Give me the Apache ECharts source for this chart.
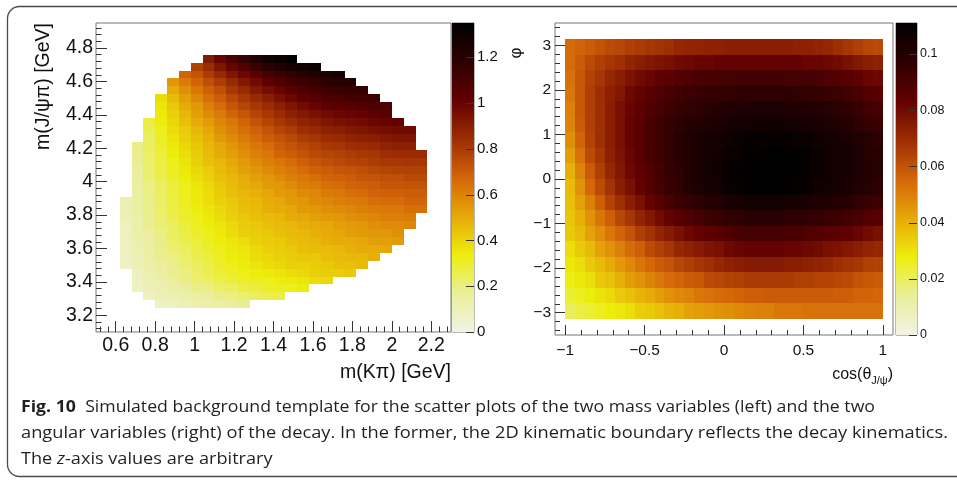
<!DOCTYPE html>
<html><head><meta charset="utf-8">
<script src="https://cdn.jsdelivr.net/npm/echarts@6/dist/echarts.min.js"></script>
<style>html,body{margin:0;padding:0;background:#fff}#c{width:957px;height:482px}</style>
</head><body><div id="c"></div><script>
// ================= DATA =================
// ROOT inverted dark-body-radiator palette (low -> high)
const palette = ['#f2f3e5','#eaee9a','#edee0b','#e6a808','#d46509','#9c2d03','#630001','#2d0001','#000000'];

// ---- left: m(K pi) vs m(J/psi pi) ----
const leftXEdge0 = 0.5, leftXBin = 0.06;          // 30 bins 0.5..2.3
const leftYEdge0 = 3.1, leftYBin = 1.85 / 39;     // 39 bins 3.1..4.95
const leftZMax = 1.35;
const leftXTicks = [0.6, 0.8, 1, 1.2, 1.4, 1.6, 1.8, 2, 2.2];
const leftYTicks = [3.2, 3.4, 3.6, 3.8, 4, 4.2, 4.4, 4.6, 4.8];
const leftZTicks = [0, 0.2, 0.4, 0.6, 0.8, 1, 1.2];
// row index (y-bin) of each row, first x-bin of the row, and cell values
const leftRows = [34,33,32,31,30,29,28,27,26,25,24,23,22,21,20,19,18,17,16,15,14,13,12,11,10,9,8,7,6,5,4,3];
const leftFirstCol = [9,8,7,6,6,5,5,5,4,4,4,3,3,3,3,3,3,3,2,2,2,2,2,2,2,2,2,3,3,3,4,5];
const leftZ = [
 [0.92,1.0,1.08,1.15,1.22,1.27,1.31,1.35],
 [0.78,0.85,0.93,1.0,1.07,1.13,1.19,1.23,1.26,1.28,1.3],
 [0.68,0.73,0.8,0.86,0.93,0.99,1.04,1.09,1.13,1.17,1.2,1.23,1.24,1.26],
 [0.55,0.62,0.68,0.74,0.8,0.86,0.92,0.97,1.03,1.07,1.11,1.13,1.16,1.19,1.2,1.22],
 [0.5,0.57,0.63,0.69,0.74,0.81,0.86,0.92,0.96,1.0,1.04,1.08,1.11,1.13,1.15,1.16,1.17],
 [0.38,0.46,0.53,0.59,0.65,0.7,0.76,0.81,0.86,0.9,0.95,0.99,1.03,1.05,1.08,1.09,1.11,1.12,1.13],
 [0.36,0.43,0.5,0.55,0.61,0.66,0.72,0.77,0.81,0.85,0.89,0.93,0.97,1.0,1.03,1.04,1.05,1.07,1.08,1.08],
 [0.35,0.41,0.47,0.53,0.58,0.62,0.68,0.72,0.77,0.81,0.85,0.89,0.92,0.95,0.97,0.99,1.0,1.01,1.03,1.04],
 [0.27,0.34,0.39,0.45,0.5,0.54,0.59,0.63,0.68,0.73,0.77,0.81,0.84,0.88,0.9,0.93,0.95,0.96,0.97,0.99,1.0,1.01],
 [0.26,0.32,0.38,0.42,0.47,0.51,0.57,0.61,0.65,0.69,0.73,0.77,0.8,0.84,0.86,0.89,0.9,0.92,0.93,0.95,0.96,0.97,0.97],
 [0.24,0.31,0.36,0.41,0.45,0.49,0.54,0.58,0.62,0.66,0.7,0.73,0.76,0.8,0.82,0.85,0.86,0.88,0.89,0.9,0.92,0.93,0.93],
 [0.19,0.24,0.3,0.35,0.39,0.43,0.47,0.51,0.55,0.59,0.63,0.66,0.7,0.73,0.76,0.78,0.81,0.82,0.84,0.85,0.86,0.88,0.89,0.89],
 [0.18,0.23,0.28,0.34,0.38,0.42,0.46,0.5,0.53,0.57,0.61,0.63,0.68,0.7,0.73,0.76,0.77,0.78,0.8,0.81,0.82,0.84,0.85,0.85,0.85],
 [0.18,0.23,0.27,0.32,0.36,0.41,0.45,0.47,0.51,0.54,0.58,0.61,0.63,0.66,0.69,0.72,0.74,0.76,0.77,0.78,0.8,0.81,0.81,0.82,0.82],
 [0.16,0.22,0.27,0.31,0.35,0.39,0.42,0.46,0.49,0.53,0.55,0.58,0.61,0.63,0.66,0.69,0.7,0.72,0.73,0.74,0.76,0.77,0.78,0.78,0.78],
 [0.16,0.22,0.26,0.3,0.34,0.38,0.41,0.45,0.47,0.5,0.53,0.55,0.58,0.61,0.63,0.65,0.68,0.69,0.7,0.72,0.73,0.74,0.74,0.76,0.76],
 [0.16,0.2,0.24,0.28,0.32,0.36,0.39,0.43,0.46,0.49,0.51,0.54,0.55,0.58,0.61,0.62,0.65,0.66,0.68,0.69,0.7,0.72,0.72,0.73,0.73],
 [0.15,0.2,0.24,0.28,0.32,0.35,0.38,0.42,0.45,0.47,0.49,0.51,0.54,0.55,0.58,0.59,0.62,0.63,0.65,0.66,0.68,0.69,0.69,0.7,0.7],
 [0.11,0.15,0.19,0.23,0.27,0.31,0.35,0.38,0.41,0.43,0.46,0.47,0.5,0.51,0.54,0.55,0.58,0.59,0.61,0.62,0.63,0.65,0.66,0.66,0.68,0.68],
 [0.11,0.15,0.19,0.23,0.27,0.3,0.34,0.36,0.39,0.42,0.45,0.46,0.49,0.5,0.51,0.54,0.55,0.57,0.58,0.59,0.61,0.62,0.63,0.63,0.65,0.65],
 [0.11,0.14,0.18,0.22,0.26,0.3,0.32,0.35,0.38,0.41,0.43,0.45,0.46,0.47,0.5,0.51,0.53,0.54,0.55,0.57,0.58,0.59,0.61,0.61,0.62],
 [0.09,0.14,0.18,0.22,0.24,0.28,0.31,0.34,0.36,0.39,0.42,0.43,0.45,0.46,0.47,0.49,0.5,0.51,0.53,0.54,0.55,0.57,0.58,0.58,0.59],
 [0.09,0.14,0.16,0.2,0.24,0.27,0.3,0.32,0.35,0.38,0.41,0.42,0.43,0.45,0.46,0.47,0.49,0.5,0.51,0.53,0.54,0.55,0.55,0.57],
 [0.09,0.12,0.16,0.19,0.23,0.26,0.28,0.31,0.34,0.36,0.38,0.41,0.42,0.43,0.45,0.46,0.47,0.49,0.5,0.5,0.51,0.53,0.53,0.54],
 [0.08,0.12,0.15,0.19,0.22,0.24,0.27,0.3,0.32,0.35,0.36,0.39,0.41,0.42,0.43,0.45,0.46,0.46,0.47,0.49,0.5,0.5,0.51],
 [0.08,0.11,0.15,0.18,0.2,0.23,0.26,0.28,0.31,0.34,0.35,0.38,0.39,0.41,0.42,0.43,0.43,0.45,0.46,0.47,0.47,0.49],
 [0.08,0.11,0.14,0.16,0.19,0.22,0.24,0.27,0.3,0.32,0.34,0.36,0.38,0.39,0.41,0.41,0.42,0.43,0.45,0.45,0.46],
 [0.09,0.12,0.15,0.18,0.2,0.23,0.26,0.28,0.3,0.32,0.34,0.35,0.36,0.38,0.39,0.41,0.42,0.42,0.43],
 [0.09,0.12,0.14,0.16,0.19,0.22,0.23,0.26,0.28,0.3,0.31,0.32,0.34,0.35,0.36,0.38,0.39],
 [0.08,0.11,0.12,0.15,0.16,0.19,0.2,0.23,0.24,0.27,0.28,0.3,0.31,0.32,0.34],
 [0.09,0.11,0.12,0.14,0.15,0.16,0.19,0.2,0.22,0.24,0.26,0.27],
 [0.08,0.09,0.11,0.12,0.14,0.15,0.16,0.18]
];

// ---- right: cos(theta_J/psi) vs phi ----
const rightXEdge0 = -1, rightXBin = 2 / 32;            // 32 bins
const rightYEdge0 = -Math.PI, rightYBin = 2 * Math.PI / 18; // 18 bins
const rightZMax = 0.111;
const rightXTicks = [-1, -0.5, 0, 0.5, 1];
const rightYTicks = [-3, -2, -1, 0, 1, 2, 3];
const rightZTicks = [0, 0.02, 0.04, 0.06, 0.08, 0.1];
// rows listed from top (phi ~ +pi) to bottom (phi ~ -pi)
const rightZ = [
 [0.054,0.056,0.058,0.060,0.062,0.063,0.065,0.066,0.067,0.068,0.069,0.071,0.072,0.072,0.073,0.073,0.074,0.074,0.074,0.074,0.074,0.074,0.074,0.073,0.073,0.072,0.071,0.069,0.067,0.065,0.063,0.062],
 [0.054,0.058,0.062,0.065,0.067,0.069,0.072,0.074,0.076,0.077,0.078,0.080,0.081,0.082,0.082,0.083,0.083,0.083,0.083,0.083,0.083,0.083,0.083,0.083,0.082,0.082,0.081,0.080,0.078,0.076,0.074,0.073],
 [0.053,0.059,0.064,0.067,0.071,0.074,0.077,0.080,0.082,0.084,0.085,0.087,0.088,0.090,0.090,0.091,0.091,0.092,0.092,0.092,0.092,0.092,0.091,0.091,0.091,0.090,0.088,0.087,0.086,0.084,0.082,0.081],
 [0.052,0.059,0.065,0.069,0.073,0.076,0.081,0.083,0.086,0.088,0.090,0.092,0.093,0.094,0.095,0.096,0.096,0.097,0.097,0.097,0.097,0.097,0.097,0.096,0.096,0.095,0.094,0.093,0.092,0.090,0.087,0.086],
 [0.050,0.059,0.065,0.069,0.074,0.078,0.082,0.085,0.088,0.091,0.093,0.095,0.096,0.097,0.099,0.100,0.101,0.101,0.102,0.102,0.102,0.102,0.101,0.101,0.101,0.100,0.099,0.097,0.096,0.094,0.092,0.091],
 [0.049,0.058,0.065,0.069,0.074,0.078,0.083,0.086,0.090,0.093,0.095,0.097,0.100,0.101,0.102,0.103,0.104,0.105,0.105,0.106,0.106,0.106,0.105,0.105,0.104,0.103,0.102,0.101,0.100,0.097,0.095,0.094],
 [0.047,0.056,0.064,0.069,0.074,0.078,0.083,0.086,0.090,0.093,0.096,0.099,0.101,0.103,0.104,0.105,0.106,0.108,0.109,0.109,0.109,0.109,0.109,0.108,0.108,0.106,0.105,0.104,0.103,0.101,0.099,0.097],
 [0.044,0.053,0.062,0.067,0.073,0.077,0.082,0.086,0.090,0.093,0.096,0.099,0.101,0.103,0.105,0.106,0.108,0.109,0.110,0.110,0.111,0.111,0.110,0.110,0.109,0.108,0.106,0.105,0.104,0.102,0.100,0.099],
 [0.040,0.049,0.058,0.065,0.071,0.076,0.081,0.085,0.088,0.092,0.095,0.097,0.101,0.103,0.105,0.106,0.109,0.110,0.111,0.111,0.111,0.111,0.111,0.110,0.109,0.108,0.106,0.105,0.104,0.102,0.100,0.099],
 [0.038,0.046,0.055,0.062,0.068,0.074,0.078,0.083,0.087,0.091,0.094,0.096,0.100,0.102,0.104,0.105,0.108,0.109,0.110,0.110,0.110,0.110,0.110,0.109,0.108,0.106,0.105,0.104,0.103,0.101,0.099,0.097],
 [0.037,0.043,0.050,0.057,0.064,0.069,0.074,0.078,0.083,0.086,0.090,0.093,0.095,0.097,0.100,0.101,0.103,0.104,0.105,0.105,0.105,0.105,0.104,0.104,0.103,0.102,0.101,0.100,0.099,0.096,0.094,0.093],
 [0.036,0.040,0.046,0.052,0.057,0.063,0.067,0.072,0.076,0.080,0.083,0.086,0.088,0.091,0.093,0.094,0.096,0.097,0.099,0.099,0.099,0.099,0.097,0.097,0.096,0.095,0.094,0.093,0.092,0.090,0.087,0.086],
 [0.035,0.038,0.043,0.047,0.052,0.056,0.060,0.065,0.068,0.072,0.075,0.078,0.081,0.083,0.085,0.086,0.088,0.090,0.091,0.091,0.091,0.091,0.090,0.090,0.088,0.087,0.086,0.085,0.084,0.082,0.080,0.078],
 [0.031,0.035,0.038,0.043,0.046,0.050,0.054,0.057,0.062,0.065,0.067,0.071,0.073,0.075,0.077,0.078,0.081,0.082,0.083,0.083,0.083,0.083,0.082,0.082,0.081,0.080,0.078,0.077,0.076,0.074,0.072,0.071],
 [0.029,0.031,0.035,0.038,0.041,0.045,0.048,0.052,0.055,0.058,0.060,0.063,0.065,0.067,0.069,0.071,0.073,0.074,0.075,0.075,0.075,0.075,0.074,0.074,0.073,0.072,0.071,0.069,0.068,0.067,0.065,0.064],
 [0.027,0.029,0.031,0.035,0.037,0.040,0.044,0.046,0.049,0.052,0.054,0.056,0.058,0.059,0.062,0.063,0.064,0.065,0.066,0.066,0.066,0.066,0.066,0.065,0.065,0.064,0.064,0.063,0.062,0.060,0.059,0.058],
 [0.024,0.026,0.028,0.030,0.032,0.035,0.037,0.039,0.041,0.044,0.046,0.048,0.049,0.052,0.053,0.054,0.055,0.056,0.057,0.057,0.058,0.058,0.058,0.058,0.058,0.058,0.058,0.057,0.057,0.056,0.056,0.055],
 [0.020,0.022,0.024,0.026,0.028,0.029,0.031,0.034,0.035,0.037,0.039,0.040,0.043,0.044,0.045,0.046,0.047,0.048,0.049,0.050,0.050,0.052,0.052,0.052,0.053,0.053,0.053,0.053,0.053,0.053,0.053,0.053]
];

const captionLines = [
  '{b|Fig. 10}  Simulated background template for the scatter plots of the two mass variables (left) and the two',
  'angular variables (right) of the decay. In the former, the 2D kinematic boundary reflects the decay kinematics.',
  'The {i|z}-axis values are arbitrary'
];
const captionPlain = [
  'Fig. 10  Simulated background template for the scatter plots of the two mass variables (left) and the two',
  'angular variables (right) of the decay. In the former, the 2D kinematic boundary reflects the decay kinematics.',
  'The z-axis values are arbitrary'
];

// ================= BUILD =================
const leftData = [];
leftRows.forEach((r, i) => {
  leftZ[i].forEach((z, k) => {
    const c = leftFirstCol[i] + k;
    leftData.push([leftXEdge0 + c * leftXBin, leftYEdge0 + r * leftYBin, z]);
  });
});
const rightData = [];
rightZ.forEach((row, i) => {
  const m = rightZ.length - 1 - i;
  row.forEach((z, k) => rightData.push([rightXEdge0 + k * rightXBin, rightYEdge0 + m * rightYBin, z]));
});

function steps(a, b, s) { const out = []; for (let v = a; v <= b + 1e-9; v += s) out.push(+v.toFixed(4)); return out; }
function minus(v) { return String(v).replace('-', '\u2212'); }
const leftXMinor = steps(0.52, 2.28, 0.04).filter(v => !leftXTicks.some(t => Math.abs(t - v) < 1e-6));
const leftYMinor = steps(3.12, 4.92, 0.04).filter(v => !leftYTicks.some(t => Math.abs(t - v) < 1e-6));
const rightXMinor = steps(-1, 1, 0.1).filter(v => !rightXTicks.some(t => Math.abs(t - v) < 1e-6));
const rightYMinor = steps(-3.4, 3.4, 0.2).filter(v => !rightYTicks.some(t => Math.abs(t - v) < 1e-6));

const FONT = 'Liberation Sans';
const CAPFONT = 'Open Sans';
const TICKC = '#333';
function cellRenderer(bw, bh) {
  return function (params, api) {
    const x0 = api.value(0), y0 = api.value(1);
    const a = api.coord([x0, y0]);
    const b = api.coord([x0 + bw, y0 + bh]);
    const x = Math.round(a[0]), y = Math.round(b[1]);
    return { type: 'rect', shape: { x: x, y: y, width: Math.round(b[0]) - x, height: Math.round(a[1]) - y },
      style: { fill: api.visual('color') } };
  };
}
function barRenderer(zmax, ticks) {
  return function (params, api) {
    const a = api.coord([0, 0]);
    const b = api.coord([1, zmax]);
    const children = [{ type: 'rect', shape: { x: a[0], y: b[1], width: b[0] - a[0], height: a[1] - b[1] },
      style: { fill: new echarts.graphic.LinearGradient(0, 1, 0, 0,
        palette.map((c, i) => ({ offset: i / (palette.length - 1), color: c }))) } }];
    ticks.forEach(t => {
      const p = api.coord([1, t]);
      const y = Math.round(p[1]) + 0.5;
      children.push({ type: 'line', shape: { x1: b[0] - 8, y1: y, x2: b[0], y2: y }, style: { stroke: TICKC, lineWidth: 1 } });
    });
    return { type: 'group', children: children };
  };
}
function mainAxis(gi, min, max, ticks, len, fs, margin, fmt, pos, showTick) {
  return { type: 'value', gridIndex: gi, min: min, max: max, position: pos, z: 10,
    axisLine: { show: false, onZero: false }, splitLine: { show: false },
    axisTick: { show: showTick !== false, inside: true, length: len, customValues: ticks, lineStyle: { color: TICKC, width: 1 } },
    axisLabel: { show: true, customValues: ticks, fontFamily: FONT, fontSize: fs, color: '#111', margin: margin, formatter: fmt } };
}
function minorAxis(gi, min, max, ticks, len, pos) {
  return { type: 'value', gridIndex: gi, min: min, max: max, position: pos, z: 10,
    axisLine: { show: false, onZero: false }, splitLine: { show: false }, axisLabel: { show: false },
    axisTick: { show: true, inside: true, length: len, customValues: ticks, lineStyle: { color: TICKC, width: 1 } } };
}
const none = { type: 'value', show: false, min: 0, max: 1, axisLine: { onZero: false } };

const L = { left: 96, top: 23, width: 355, height: 309 };
const R = { left: 555, top: 23, width: 338, height: 312 };
const LC = { left: 452, top: 23, width: 22, height: 309 };
const RC = { left: 896, top: 23, width: 21, height: 312 };
const frame = { show: true, borderColor: '#777', borderWidth: 1, backgroundColor: 'transparent' };

// caption: horizontal fit of each line to the reference line widths
const capTargets = [854, 927, 252];
const mctx = document.createElement('canvas').getContext('2d');
const capScale = captionPlain.map((t, i) => {
  mctx.font = '16.5px ' + CAPFONT;
  let w = mctx.measureText(t).width;
  if (i === 0) { mctx.font = 'bold 16.5px ' + CAPFONT; const wb = mctx.measureText('Fig. 10').width; mctx.font = '16.5px ' + CAPFONT; w = w - mctx.measureText('Fig. 10').width + wb; }
  return capTargets[i] / w;
});

const chart = echarts.init(document.getElementById('c'), null, { renderer: 'canvas' });
chart.setOption({
  animation: false,
  backgroundColor: '#fff',
  grid: [
    Object.assign({}, L, frame), Object.assign({}, L, { show: false }),
    Object.assign({}, R, frame), Object.assign({}, R, { show: false }),
    Object.assign({}, LC, frame), Object.assign({}, RC, frame)
  ],
  xAxis: [
    mainAxis(0, 0.5, 2.3, leftXTicks, 11, 19.5, 4, v => String(v), 'bottom'),
    minorAxis(1, 0.5, 2.3, leftXMinor, 5.5, 'bottom'),
    mainAxis(2, -1.064, 1.064, rightXTicks, 10, 15.5, 8, minus, 'bottom'),
    minorAxis(3, -1.064, 1.064, rightXMinor, 5, 'bottom'),
    Object.assign({ gridIndex: 4 }, none), Object.assign({ gridIndex: 5 }, none)
  ],
  yAxis: [
    mainAxis(0, 3.1, 4.95, leftYTicks, 11, 19.5, 3, v => String(v), 'left'),
    minorAxis(1, 3.1, 4.95, leftYMinor, 5.5, 'left'),
    mainAxis(2, -3.5, 3.5, rightYTicks, 10, 15.5, 4, minus, 'left'),
    minorAxis(3, -3.5, 3.5, rightYMinor, 5, 'left'),
    mainAxis(4, 0, leftZMax, leftZTicks, 8, 15, 3, v => String(v), 'right', false),
    mainAxis(5, 0, rightZMax, rightZTicks, 8, 12.5, 3, v => String(v), 'right', false)
  ],
  visualMap: [
    { type: 'continuous', show: false, seriesIndex: 0, dimension: 2, min: 0, max: leftZMax, inRange: { color: palette } },
    { type: 'continuous', show: false, seriesIndex: 1, dimension: 2, min: 0, max: rightZMax, inRange: { color: palette } }
  ],
  series: [
    { type: 'custom', xAxisIndex: 0, yAxisIndex: 0, dimensions: ['x', 'y', 'z'], encode: { x: 0, y: 1 },
      renderItem: cellRenderer(leftXBin, leftYBin), data: leftData, silent: true },
    { type: 'custom', xAxisIndex: 2, yAxisIndex: 2, dimensions: ['x', 'y', 'z'], encode: { x: 0, y: 1 },
      renderItem: cellRenderer(rightXBin, rightYBin), data: rightData, silent: true },
    { type: 'custom', xAxisIndex: 4, yAxisIndex: 4, renderItem: barRenderer(leftZMax, leftZTicks), data: [[0, 0]], silent: true },
    { type: 'custom', xAxisIndex: 5, yAxisIndex: 5, renderItem: barRenderer(rightZMax, rightZTicks), data: [[0, 0]], silent: true }
  ],
  graphic: [
    { type: 'rect', shape: { x: 7.5, y: 6.5, width: 990, height: 470, r: 12 }, style: { fill: 'none', stroke: '#4a4a4a', lineWidth: 1.3 }, silent: true },
    { type: 'text', x: 44, y: 23, rotation: Math.PI / 2, style: { text: 'm(J/\u03c8\u03c0) [GeV]', font: '19.5px Liberation Sans', fill: '#111', align: 'right', verticalAlign: 'middle' } },
    { type: 'text', x: 451, y: 373, style: { text: 'm(K\u03c0) [GeV]', font: '19.5px Liberation Sans', fill: '#111', align: 'right', verticalAlign: 'middle' } },
    { type: 'text', x: 516, y: 53, rotation: Math.PI / 2, style: { text: '\u03c6', font: '17px Liberation Sans', fill: '#111', align: 'center', verticalAlign: 'middle' } },
    { type: 'text', x: 893, y: 375, style: { text: '{a|cos(\u03b8}{s|J/\u03c8}{a|)}', align: 'right', verticalAlign: 'middle',
      rich: { a: { fontFamily: FONT, fontSize: 16, lineHeight: 22, fill: '#111' }, s: { fontFamily: FONT, fontSize: 11, lineHeight: 11, verticalAlign: 'bottom', fill: '#111' } } } },
    { type: 'text', x: 21, y: 407, scaleX: capScale[0], style: { text: captionLines[0], fontFamily: CAPFONT, fontSize: 16.5, fill: '#231f20', verticalAlign: 'middle',
      rich: { b: { fontFamily: CAPFONT, fontWeight: 'bold', fontSize: 16.5, fill: '#231f20' } } } },
    { type: 'text', x: 21, y: 433, scaleX: capScale[1], style: { text: captionLines[1], fontFamily: CAPFONT, fontSize: 16.5, fill: '#231f20', verticalAlign: 'middle' } },
    { type: 'text', x: 21, y: 459, scaleX: capScale[2], style: { text: captionLines[2], fontFamily: CAPFONT, fontSize: 16.5, fill: '#231f20', verticalAlign: 'middle',
      rich: { i: { fontFamily: CAPFONT, fontStyle: 'italic', fontSize: 16.5, fill: '#231f20' } } } }
  ]
});
</script></body></html>
